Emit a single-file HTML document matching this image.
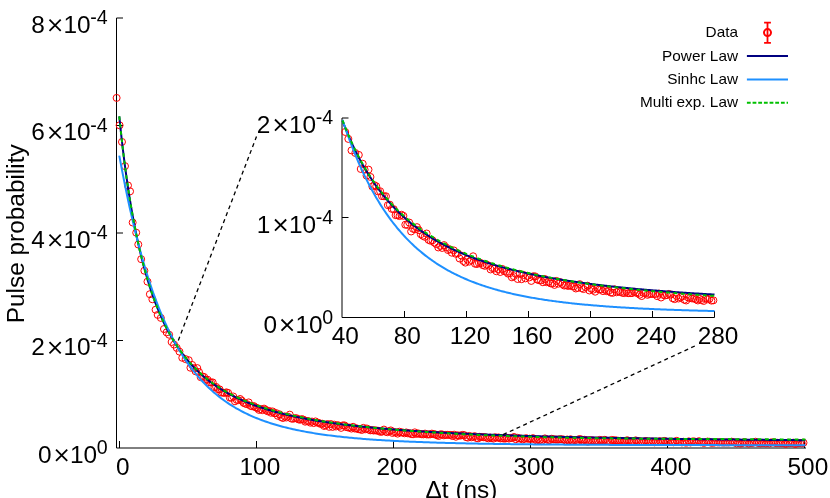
<!DOCTYPE html>
<html><head><meta charset="utf-8"><title>Pulse probability</title>
<style>html,body{margin:0;padding:0;background:#fff;}body{width:830px;height:498px;overflow:hidden;font-family:"Liberation Sans",sans-serif;}svg{display:block;will-change:transform;}</style>
</head><body>
<svg width="830" height="498" viewBox="0 0 830 498" font-family="'Liberation Sans', sans-serif" fill="#000">
<rect width="830" height="498" fill="#fff"/>
<g stroke="#000" stroke-width="1" fill="none">
<path d="M116.5,18 V448 H806"/>
<path d="M116.5,18.00 h6.5"/>
<path d="M116.5,125.50 h6.5"/>
<path d="M116.5,233.00 h6.5"/>
<path d="M116.5,340.50 h6.5"/>
<path d="M119.50,448 v-7"/>
<path d="M256.50,448 v-7"/>
<path d="M393.50,448 v-7"/>
<path d="M530.50,448 v-7"/>
<path d="M667.50,448 v-7"/>
<path d="M804.50,448 v-7"/>
</g>
<g fill="none" stroke="#ff0000" stroke-width="1"><circle cx="116.62" cy="97.91" r="3.5"/><circle cx="119.60" cy="125.30" r="3.5"/><circle cx="121.97" cy="141.95" r="3.5"/><circle cx="124.98" cy="166.11" r="3.5"/><circle cx="127.99" cy="185.44" r="3.5"/><circle cx="130.05" cy="191.35" r="3.5"/><circle cx="132.65" cy="222.50" r="3.5"/><circle cx="136.21" cy="232.70" r="3.5"/><circle cx="138.27" cy="244.51" r="3.5"/><circle cx="141.16" cy="259.16" r="3.5"/><circle cx="144.39" cy="270.74" r="3.5"/><circle cx="147.47" cy="281.64" r="3.5"/><circle cx="149.87" cy="294.21" r="3.5"/><circle cx="152.37" cy="299.25" r="3.5"/><circle cx="155.57" cy="309.74" r="3.5"/><circle cx="157.70" cy="314.90" r="3.5"/><circle cx="160.83" cy="317.91" r="3.5"/><circle cx="163.94" cy="329.02" r="3.5"/><circle cx="166.64" cy="332.40" r="3.5"/><circle cx="169.14" cy="334.72" r="3.5"/><circle cx="171.61" cy="341.97" r="3.5"/><circle cx="174.04" cy="344.58" r="3.5"/><circle cx="176.72" cy="347.86" r="3.5"/><circle cx="179.46" cy="351.61" r="3.5"/><circle cx="182.27" cy="357.79" r="3.5"/><circle cx="185.62" cy="359.15" r="3.5"/><circle cx="188.72" cy="360.19" r="3.5"/><circle cx="190.43" cy="367.74" r="3.5"/><circle cx="192.14" cy="364.93" r="3.5"/><circle cx="193.86" cy="368.14" r="3.5"/><circle cx="195.57" cy="371.30" r="3.5"/><circle cx="197.28" cy="368.08" r="3.5"/><circle cx="198.99" cy="372.02" r="3.5"/><circle cx="200.71" cy="377.18" r="3.5"/><circle cx="202.42" cy="376.41" r="3.5"/><circle cx="204.13" cy="377.01" r="3.5"/><circle cx="205.84" cy="379.81" r="3.5"/><circle cx="207.56" cy="379.69" r="3.5"/><circle cx="209.27" cy="382.34" r="3.5"/><circle cx="210.98" cy="382.40" r="3.5"/><circle cx="212.69" cy="382.39" r="3.5"/><circle cx="214.41" cy="387.18" r="3.5"/><circle cx="216.12" cy="386.91" r="3.5"/><circle cx="217.83" cy="389.16" r="3.5"/><circle cx="219.54" cy="389.33" r="3.5"/><circle cx="221.26" cy="392.53" r="3.5"/><circle cx="222.97" cy="392.61" r="3.5"/><circle cx="224.68" cy="393.03" r="3.5"/><circle cx="226.39" cy="392.32" r="3.5"/><circle cx="228.11" cy="392.92" r="3.5"/><circle cx="229.82" cy="397.67" r="3.5"/><circle cx="231.53" cy="397.77" r="3.5"/><circle cx="233.24" cy="396.48" r="3.5"/><circle cx="234.96" cy="401.30" r="3.5"/><circle cx="236.67" cy="399.86" r="3.5"/><circle cx="238.38" cy="400.14" r="3.5"/><circle cx="240.09" cy="398.97" r="3.5"/><circle cx="241.81" cy="400.59" r="3.5"/><circle cx="243.52" cy="402.82" r="3.5"/><circle cx="245.23" cy="403.61" r="3.5"/><circle cx="246.94" cy="404.17" r="3.5"/><circle cx="248.66" cy="402.39" r="3.5"/><circle cx="250.37" cy="405.80" r="3.5"/><circle cx="252.08" cy="406.30" r="3.5"/><circle cx="253.79" cy="406.05" r="3.5"/><circle cx="255.51" cy="407.33" r="3.5"/><circle cx="257.22" cy="408.06" r="3.5"/><circle cx="258.93" cy="409.89" r="3.5"/><circle cx="260.64" cy="409.01" r="3.5"/><circle cx="262.36" cy="410.16" r="3.5"/><circle cx="264.07" cy="408.62" r="3.5"/><circle cx="265.78" cy="409.85" r="3.5"/><circle cx="267.49" cy="411.26" r="3.5"/><circle cx="269.21" cy="410.91" r="3.5"/><circle cx="270.92" cy="412.71" r="3.5"/><circle cx="272.63" cy="411.46" r="3.5"/><circle cx="274.34" cy="413.28" r="3.5"/><circle cx="276.06" cy="413.03" r="3.5"/><circle cx="277.77" cy="415.81" r="3.5"/><circle cx="279.48" cy="414.27" r="3.5"/><circle cx="281.19" cy="417.19" r="3.5"/><circle cx="282.91" cy="418.03" r="3.5"/><circle cx="284.62" cy="416.38" r="3.5"/><circle cx="286.33" cy="417.50" r="3.5"/><circle cx="288.04" cy="416.66" r="3.5"/><circle cx="289.76" cy="414.63" r="3.5"/><circle cx="291.47" cy="418.62" r="3.5"/><circle cx="293.18" cy="418.76" r="3.5"/><circle cx="294.89" cy="418.19" r="3.5"/><circle cx="296.61" cy="418.23" r="3.5"/><circle cx="298.32" cy="419.36" r="3.5"/><circle cx="300.03" cy="419.75" r="3.5"/><circle cx="301.74" cy="419.08" r="3.5"/><circle cx="303.46" cy="419.64" r="3.5"/><circle cx="305.17" cy="421.70" r="3.5"/><circle cx="306.88" cy="420.97" r="3.5"/><circle cx="308.59" cy="421.17" r="3.5"/><circle cx="310.31" cy="422.67" r="3.5"/><circle cx="312.02" cy="421.56" r="3.5"/><circle cx="313.73" cy="423.07" r="3.5"/><circle cx="315.44" cy="421.41" r="3.5"/><circle cx="317.16" cy="422.54" r="3.5"/><circle cx="318.87" cy="422.94" r="3.5"/><circle cx="320.58" cy="423.94" r="3.5"/><circle cx="322.29" cy="423.72" r="3.5"/><circle cx="324.01" cy="425.94" r="3.5"/><circle cx="325.72" cy="425.30" r="3.5"/><circle cx="327.43" cy="424.03" r="3.5"/><circle cx="329.14" cy="426.83" r="3.5"/><circle cx="330.86" cy="424.06" r="3.5"/><circle cx="332.57" cy="426.93" r="3.5"/><circle cx="334.28" cy="424.66" r="3.5"/><circle cx="335.99" cy="426.50" r="3.5"/><circle cx="337.71" cy="425.12" r="3.5"/><circle cx="339.42" cy="426.00" r="3.5"/><circle cx="341.13" cy="427.86" r="3.5"/><circle cx="342.84" cy="425.36" r="3.5"/><circle cx="344.56" cy="425.41" r="3.5"/><circle cx="346.27" cy="427.08" r="3.5"/><circle cx="347.98" cy="427.50" r="3.5"/><circle cx="349.69" cy="427.60" r="3.5"/><circle cx="351.41" cy="428.58" r="3.5"/><circle cx="353.12" cy="426.82" r="3.5"/><circle cx="354.83" cy="428.57" r="3.5"/><circle cx="356.54" cy="428.30" r="3.5"/><circle cx="358.26" cy="429.19" r="3.5"/><circle cx="359.97" cy="429.22" r="3.5"/><circle cx="361.68" cy="430.00" r="3.5"/><circle cx="363.39" cy="427.86" r="3.5"/><circle cx="365.11" cy="429.34" r="3.5"/><circle cx="366.82" cy="428.50" r="3.5"/><circle cx="368.53" cy="429.54" r="3.5"/><circle cx="370.24" cy="430.35" r="3.5"/><circle cx="371.96" cy="430.19" r="3.5"/><circle cx="373.67" cy="430.56" r="3.5"/><circle cx="375.38" cy="430.22" r="3.5"/><circle cx="377.09" cy="430.72" r="3.5"/><circle cx="378.81" cy="430.82" r="3.5"/><circle cx="380.52" cy="431.91" r="3.5"/><circle cx="382.23" cy="431.57" r="3.5"/><circle cx="383.94" cy="429.59" r="3.5"/><circle cx="385.66" cy="431.75" r="3.5"/><circle cx="387.37" cy="432.22" r="3.5"/><circle cx="389.08" cy="431.18" r="3.5"/><circle cx="390.79" cy="430.42" r="3.5"/><circle cx="392.51" cy="432.98" r="3.5"/><circle cx="394.22" cy="432.07" r="3.5"/><circle cx="395.93" cy="432.56" r="3.5"/><circle cx="397.64" cy="433.64" r="3.5"/><circle cx="399.36" cy="431.69" r="3.5"/><circle cx="401.07" cy="432.46" r="3.5"/><circle cx="402.78" cy="432.51" r="3.5"/><circle cx="404.49" cy="433.31" r="3.5"/><circle cx="406.21" cy="432.45" r="3.5"/><circle cx="407.92" cy="433.39" r="3.5"/><circle cx="409.63" cy="433.19" r="3.5"/><circle cx="411.34" cy="434.09" r="3.5"/><circle cx="413.06" cy="434.29" r="3.5"/><circle cx="414.77" cy="432.37" r="3.5"/><circle cx="416.48" cy="433.95" r="3.5"/><circle cx="418.19" cy="433.44" r="3.5"/><circle cx="419.91" cy="433.81" r="3.5"/><circle cx="421.62" cy="434.24" r="3.5"/><circle cx="423.33" cy="434.40" r="3.5"/><circle cx="425.04" cy="433.62" r="3.5"/><circle cx="426.76" cy="434.46" r="3.5"/><circle cx="428.47" cy="434.44" r="3.5"/><circle cx="430.18" cy="434.42" r="3.5"/><circle cx="431.89" cy="433.63" r="3.5"/><circle cx="433.61" cy="434.12" r="3.5"/><circle cx="435.32" cy="434.45" r="3.5"/><circle cx="437.03" cy="435.27" r="3.5"/><circle cx="438.74" cy="435.98" r="3.5"/><circle cx="440.46" cy="434.32" r="3.5"/><circle cx="442.17" cy="434.41" r="3.5"/><circle cx="443.88" cy="435.33" r="3.5"/><circle cx="445.59" cy="434.92" r="3.5"/><circle cx="447.31" cy="434.83" r="3.5"/><circle cx="449.02" cy="434.89" r="3.5"/><circle cx="450.73" cy="434.91" r="3.5"/><circle cx="452.44" cy="436.01" r="3.5"/><circle cx="454.16" cy="434.66" r="3.5"/><circle cx="455.87" cy="436.76" r="3.5"/><circle cx="457.58" cy="435.32" r="3.5"/><circle cx="459.29" cy="435.67" r="3.5"/><circle cx="461.01" cy="435.48" r="3.5"/><circle cx="462.72" cy="434.85" r="3.5"/><circle cx="464.43" cy="435.21" r="3.5"/><circle cx="466.14" cy="437.17" r="3.5"/><circle cx="467.86" cy="437.63" r="3.5"/><circle cx="469.57" cy="435.94" r="3.5"/><circle cx="471.28" cy="437.30" r="3.5"/><circle cx="472.99" cy="436.68" r="3.5"/><circle cx="474.71" cy="436.16" r="3.5"/><circle cx="476.42" cy="437.96" r="3.5"/><circle cx="478.13" cy="438.36" r="3.5"/><circle cx="479.84" cy="436.79" r="3.5"/><circle cx="481.56" cy="437.01" r="3.5"/><circle cx="483.27" cy="437.28" r="3.5"/><circle cx="484.98" cy="437.15" r="3.5"/><circle cx="486.69" cy="437.84" r="3.5"/><circle cx="488.41" cy="438.35" r="3.5"/><circle cx="490.12" cy="437.50" r="3.5"/><circle cx="491.83" cy="438.11" r="3.5"/><circle cx="493.54" cy="438.63" r="3.5"/><circle cx="495.26" cy="437.25" r="3.5"/><circle cx="496.97" cy="437.69" r="3.5"/><circle cx="498.68" cy="437.45" r="3.5"/><circle cx="500.39" cy="438.44" r="3.5"/><circle cx="502.11" cy="438.28" r="3.5"/><circle cx="503.82" cy="438.57" r="3.5"/><circle cx="505.53" cy="438.55" r="3.5"/><circle cx="507.24" cy="437.90" r="3.5"/><circle cx="508.96" cy="438.60" r="3.5"/><circle cx="510.67" cy="437.92" r="3.5"/><circle cx="512.38" cy="437.99" r="3.5"/><circle cx="514.09" cy="436.96" r="3.5"/><circle cx="515.81" cy="439.23" r="3.5"/><circle cx="517.52" cy="437.81" r="3.5"/><circle cx="519.23" cy="438.50" r="3.5"/><circle cx="520.94" cy="438.51" r="3.5"/><circle cx="522.66" cy="439.48" r="3.5"/><circle cx="524.37" cy="438.90" r="3.5"/><circle cx="526.08" cy="438.19" r="3.5"/><circle cx="527.79" cy="438.77" r="3.5"/><circle cx="529.51" cy="438.72" r="3.5"/><circle cx="531.22" cy="439.00" r="3.5"/><circle cx="532.93" cy="438.15" r="3.5"/><circle cx="534.64" cy="438.94" r="3.5"/><circle cx="536.36" cy="440.34" r="3.5"/><circle cx="538.07" cy="439.45" r="3.5"/><circle cx="539.78" cy="440.29" r="3.5"/><circle cx="541.49" cy="441.13" r="3.5"/><circle cx="543.21" cy="439.50" r="3.5"/><circle cx="544.92" cy="438.40" r="3.5"/><circle cx="546.63" cy="439.24" r="3.5"/><circle cx="548.34" cy="440.03" r="3.5"/><circle cx="550.06" cy="439.94" r="3.5"/><circle cx="551.77" cy="438.73" r="3.5"/><circle cx="553.48" cy="439.36" r="3.5"/><circle cx="555.19" cy="439.47" r="3.5"/><circle cx="556.91" cy="439.58" r="3.5"/><circle cx="558.62" cy="439.57" r="3.5"/><circle cx="560.33" cy="439.15" r="3.5"/><circle cx="562.04" cy="439.35" r="3.5"/><circle cx="563.76" cy="439.59" r="3.5"/><circle cx="565.47" cy="440.38" r="3.5"/><circle cx="567.18" cy="439.51" r="3.5"/><circle cx="568.89" cy="440.25" r="3.5"/><circle cx="570.61" cy="439.25" r="3.5"/><circle cx="572.32" cy="440.68" r="3.5"/><circle cx="574.03" cy="440.05" r="3.5"/><circle cx="575.74" cy="440.02" r="3.5"/><circle cx="577.46" cy="440.82" r="3.5"/><circle cx="579.17" cy="439.10" r="3.5"/><circle cx="580.88" cy="439.29" r="3.5"/><circle cx="582.59" cy="440.44" r="3.5"/><circle cx="584.31" cy="439.77" r="3.5"/><circle cx="586.02" cy="440.03" r="3.5"/><circle cx="587.73" cy="441.78" r="3.5"/><circle cx="589.44" cy="440.18" r="3.5"/><circle cx="591.16" cy="440.40" r="3.5"/><circle cx="592.87" cy="440.35" r="3.5"/><circle cx="594.58" cy="441.04" r="3.5"/><circle cx="596.29" cy="440.62" r="3.5"/><circle cx="598.01" cy="440.61" r="3.5"/><circle cx="599.72" cy="439.87" r="3.5"/><circle cx="601.43" cy="440.39" r="3.5"/><circle cx="603.14" cy="440.62" r="3.5"/><circle cx="604.86" cy="439.79" r="3.5"/><circle cx="606.57" cy="440.99" r="3.5"/><circle cx="608.28" cy="440.93" r="3.5"/><circle cx="609.99" cy="441.75" r="3.5"/><circle cx="611.71" cy="439.92" r="3.5"/><circle cx="613.42" cy="440.28" r="3.5"/><circle cx="615.13" cy="440.34" r="3.5"/><circle cx="616.84" cy="440.51" r="3.5"/><circle cx="618.56" cy="440.85" r="3.5"/><circle cx="620.27" cy="440.83" r="3.5"/><circle cx="621.98" cy="441.11" r="3.5"/><circle cx="623.69" cy="441.12" r="3.5"/><circle cx="625.41" cy="441.01" r="3.5"/><circle cx="627.12" cy="440.25" r="3.5"/><circle cx="628.83" cy="440.80" r="3.5"/><circle cx="630.54" cy="441.16" r="3.5"/><circle cx="632.26" cy="441.47" r="3.5"/><circle cx="633.97" cy="441.53" r="3.5"/><circle cx="635.68" cy="440.36" r="3.5"/><circle cx="637.39" cy="440.98" r="3.5"/><circle cx="639.11" cy="441.24" r="3.5"/><circle cx="640.82" cy="441.49" r="3.5"/><circle cx="642.53" cy="441.92" r="3.5"/><circle cx="644.24" cy="441.40" r="3.5"/><circle cx="645.96" cy="440.93" r="3.5"/><circle cx="647.67" cy="441.62" r="3.5"/><circle cx="649.38" cy="441.56" r="3.5"/><circle cx="651.09" cy="441.59" r="3.5"/><circle cx="652.81" cy="441.44" r="3.5"/><circle cx="654.52" cy="442.35" r="3.5"/><circle cx="656.23" cy="441.67" r="3.5"/><circle cx="657.94" cy="442.02" r="3.5"/><circle cx="659.66" cy="441.14" r="3.5"/><circle cx="661.37" cy="442.03" r="3.5"/><circle cx="663.08" cy="441.36" r="3.5"/><circle cx="664.79" cy="440.90" r="3.5"/><circle cx="666.51" cy="441.87" r="3.5"/><circle cx="668.22" cy="442.04" r="3.5"/><circle cx="669.93" cy="441.66" r="3.5"/><circle cx="671.64" cy="441.78" r="3.5"/><circle cx="673.36" cy="442.31" r="3.5"/><circle cx="675.07" cy="441.59" r="3.5"/><circle cx="676.78" cy="440.83" r="3.5"/><circle cx="678.49" cy="442.01" r="3.5"/><circle cx="680.21" cy="442.00" r="3.5"/><circle cx="681.92" cy="442.45" r="3.5"/><circle cx="683.63" cy="441.78" r="3.5"/><circle cx="685.34" cy="442.59" r="3.5"/><circle cx="687.06" cy="442.54" r="3.5"/><circle cx="688.77" cy="441.37" r="3.5"/><circle cx="690.48" cy="442.49" r="3.5"/><circle cx="692.19" cy="441.52" r="3.5"/><circle cx="693.91" cy="441.32" r="3.5"/><circle cx="695.62" cy="441.97" r="3.5"/><circle cx="697.33" cy="441.85" r="3.5"/><circle cx="699.04" cy="441.18" r="3.5"/><circle cx="700.76" cy="442.26" r="3.5"/><circle cx="702.47" cy="442.48" r="3.5"/><circle cx="704.18" cy="442.87" r="3.5"/><circle cx="705.89" cy="442.21" r="3.5"/><circle cx="707.61" cy="441.53" r="3.5"/><circle cx="709.32" cy="441.80" r="3.5"/><circle cx="711.03" cy="442.75" r="3.5"/><circle cx="712.74" cy="442.73" r="3.5"/><circle cx="714.46" cy="442.58" r="3.5"/><circle cx="716.17" cy="442.21" r="3.5"/><circle cx="717.88" cy="442.47" r="3.5"/><circle cx="719.59" cy="442.29" r="3.5"/><circle cx="721.31" cy="442.27" r="3.5"/><circle cx="723.02" cy="442.57" r="3.5"/><circle cx="724.73" cy="442.47" r="3.5"/><circle cx="726.44" cy="442.37" r="3.5"/><circle cx="728.16" cy="442.53" r="3.5"/><circle cx="729.87" cy="442.27" r="3.5"/><circle cx="731.58" cy="441.64" r="3.5"/><circle cx="733.29" cy="442.26" r="3.5"/><circle cx="735.01" cy="442.54" r="3.5"/><circle cx="736.72" cy="443.38" r="3.5"/><circle cx="738.43" cy="442.42" r="3.5"/><circle cx="740.14" cy="443.53" r="3.5"/><circle cx="741.86" cy="443.30" r="3.5"/><circle cx="743.57" cy="442.25" r="3.5"/><circle cx="745.28" cy="442.34" r="3.5"/><circle cx="746.99" cy="442.76" r="3.5"/><circle cx="748.71" cy="443.50" r="3.5"/><circle cx="750.42" cy="442.89" r="3.5"/><circle cx="752.13" cy="443.05" r="3.5"/><circle cx="753.84" cy="442.46" r="3.5"/><circle cx="755.56" cy="441.73" r="3.5"/><circle cx="757.27" cy="442.69" r="3.5"/><circle cx="758.98" cy="443.16" r="3.5"/><circle cx="760.69" cy="443.36" r="3.5"/><circle cx="762.41" cy="442.86" r="3.5"/><circle cx="764.12" cy="442.94" r="3.5"/><circle cx="765.83" cy="443.40" r="3.5"/><circle cx="767.54" cy="442.83" r="3.5"/><circle cx="769.26" cy="443.43" r="3.5"/><circle cx="770.97" cy="442.41" r="3.5"/><circle cx="772.68" cy="442.45" r="3.5"/><circle cx="774.39" cy="442.46" r="3.5"/><circle cx="776.11" cy="443.18" r="3.5"/><circle cx="777.82" cy="442.75" r="3.5"/><circle cx="779.53" cy="443.05" r="3.5"/><circle cx="781.24" cy="443.18" r="3.5"/><circle cx="782.96" cy="443.18" r="3.5"/><circle cx="784.67" cy="443.62" r="3.5"/><circle cx="786.38" cy="443.70" r="3.5"/><circle cx="788.09" cy="442.71" r="3.5"/><circle cx="789.81" cy="443.17" r="3.5"/><circle cx="791.52" cy="443.00" r="3.5"/><circle cx="793.23" cy="442.67" r="3.5"/><circle cx="794.94" cy="443.90" r="3.5"/><circle cx="796.66" cy="443.49" r="3.5"/><circle cx="798.37" cy="443.08" r="3.5"/><circle cx="800.08" cy="442.99" r="3.5"/><circle cx="801.79" cy="443.35" r="3.5"/><circle cx="803.51" cy="442.74" r="3.5"/></g>
<path d="M119.29,116.40 L121.01,132.99 L122.73,148.16 L124.45,162.09 L126.17,174.95 L127.89,186.87 L129.61,197.95 L131.33,208.27 L133.05,217.92 L134.77,226.97 L136.49,235.46 L138.21,243.44 L139.93,250.96 L141.65,258.05 L143.37,264.75 L145.09,271.09 L146.80,277.09 L148.52,282.78 L150.24,288.18 L151.96,293.31 L153.68,298.19 L155.40,302.82 L157.12,307.24 L158.84,311.46 L160.56,315.47 L162.28,319.31 L164.00,322.97 L165.72,326.48 L167.44,329.83 L169.16,333.04 L170.88,336.11 L172.59,339.06 L174.31,341.88 L176.03,344.59 L177.75,347.20 L179.47,349.70 L181.19,352.10 L182.91,354.41 L184.63,356.63 L186.35,358.78 L188.07,360.84 L189.79,362.83 L191.51,364.74 L193.23,366.59 L194.95,368.37 L196.67,370.09 L198.39,371.75 L200.10,373.36 L201.82,374.91 L203.54,376.41 L205.26,377.86 L206.98,379.26 L208.70,380.62 L210.42,381.94 L212.14,383.21 L213.86,384.45 L215.58,385.64 L217.30,386.80 L219.02,387.93 L220.74,389.02 L222.46,390.08 L224.18,391.11 L225.90,392.11 L227.61,393.08 L229.33,394.02 L231.05,394.93 L232.77,395.82 L234.49,396.69 L236.21,397.53 L237.93,398.35 L239.65,399.15 L241.37,399.92 L243.09,400.68 L244.81,401.42 L246.53,402.13 L248.25,402.83 L249.97,403.51 L251.69,404.17 L253.41,404.82 L255.12,405.45 L256.84,406.07 L258.56,406.67 L260.28,407.25 L262.00,407.82 L263.72,408.38 L265.44,408.92 L267.16,409.46 L268.88,409.98 L270.60,410.48 L272.32,410.98 L274.04,411.46 L275.76,411.94 L277.48,412.40 L279.20,412.85 L280.92,413.29 L282.63,413.73 L284.35,414.15 L286.07,414.57 L287.79,414.97 L289.51,415.37 L291.23,415.76 L292.95,416.14 L294.67,416.51 L296.39,416.87 L298.11,417.23 L299.83,417.58 L301.55,417.92 L303.27,418.26 L304.99,418.59 L306.71,418.91 L308.42,419.23 L310.14,419.54 L311.86,419.84 L313.58,420.14 L315.30,420.43 L317.02,420.72 L318.74,421.00 L320.46,421.27 L322.18,421.55 L323.90,421.81 L325.62,422.07 L327.34,422.33 L329.06,422.58 L330.78,422.83 L332.50,423.07 L334.22,423.31 L335.93,423.54 L337.65,423.77 L339.37,424.00 L341.09,424.22 L342.81,424.44 L344.53,424.65 L346.25,424.86 L347.97,425.07 L349.69,425.27 L351.41,425.47 L353.13,425.67 L354.85,425.86 L356.57,426.05 L358.29,426.24 L360.01,426.42 L361.73,426.60 L363.44,426.78 L365.16,426.95 L366.88,427.12 L368.60,427.29 L370.32,427.46 L372.04,427.62 L373.76,427.79 L375.48,427.94 L377.20,428.10 L378.92,428.25 L380.64,428.41 L382.36,428.55 L384.08,428.70 L385.80,428.85 L387.52,428.99 L389.24,429.13 L390.95,429.27 L392.67,429.40 L394.39,429.54 L396.11,429.67 L397.83,429.80 L399.55,429.93 L401.27,430.06 L402.99,430.18 L404.71,430.30 L406.43,430.42 L408.15,430.54 L409.87,430.66 L411.59,430.78 L413.31,430.89 L415.03,431.00 L416.75,431.12 L418.46,431.23 L420.18,431.33 L421.90,431.44 L423.62,431.55 L425.34,431.65 L427.06,431.75 L428.78,431.85 L430.50,431.95 L432.22,432.05 L433.94,432.15 L435.66,432.24 L437.38,432.34 L439.10,432.43 L440.82,432.52 L442.54,432.61 L444.25,432.70 L445.97,432.79 L447.69,432.88 L449.41,432.97 L451.13,433.05 L452.85,433.14 L454.57,433.22 L456.29,433.30 L458.01,433.38 L459.73,433.46 L461.45,433.54 L463.17,433.62 L464.89,433.70 L466.61,433.77 L468.33,433.85 L470.05,433.92 L471.76,433.99 L473.48,434.07 L475.20,434.14 L476.92,434.21 L478.64,434.28 L480.36,434.35 L482.08,434.42 L483.80,434.48 L485.52,434.55 L487.24,434.62 L488.96,434.68 L490.68,434.75 L492.40,434.81 L494.12,434.87 L495.84,434.93 L497.56,435.00 L499.27,435.06 L500.99,435.12 L502.71,435.18 L504.43,435.23 L506.15,435.29 L507.87,435.35 L509.59,435.41 L511.31,435.46 L513.03,435.52 L514.75,435.57 L516.47,435.63 L518.19,435.68 L519.91,435.73 L521.63,435.79 L523.35,435.84 L525.07,435.89 L526.78,435.94 L528.50,435.99 L530.22,436.04 L531.94,436.09 L533.66,436.14 L535.38,436.19 L537.10,436.24 L538.82,436.28 L540.54,436.33 L542.26,436.38 L543.98,436.42 L545.70,436.47 L547.42,436.51 L549.14,436.56 L550.86,436.60 L552.58,436.64 L554.29,436.69 L556.01,436.73 L557.73,436.77 L559.45,436.81 L561.17,436.85 L562.89,436.89 L564.61,436.94 L566.33,436.98 L568.05,437.02 L569.77,437.05 L571.49,437.09 L573.21,437.13 L574.93,437.17 L576.65,437.21 L578.37,437.25 L580.08,437.28 L581.80,437.32 L583.52,437.36 L585.24,437.39 L586.96,437.43 L588.68,437.46 L590.40,437.50 L592.12,437.53 L593.84,437.57 L595.56,437.60 L597.28,437.64 L599.00,437.67 L600.72,437.70 L602.44,437.73 L604.16,437.77 L605.88,437.80 L607.59,437.83 L609.31,437.86 L611.03,437.89 L612.75,437.92 L614.47,437.96 L616.19,437.99 L617.91,438.02 L619.63,438.05 L621.35,438.08 L623.07,438.11 L624.79,438.13 L626.51,438.16 L628.23,438.19 L629.95,438.22 L631.67,438.25 L633.39,438.28 L635.10,438.30 L636.82,438.33 L638.54,438.36 L640.26,438.39 L641.98,438.41 L643.70,438.44 L645.42,438.47 L647.14,438.49 L648.86,438.52 L650.58,438.54 L652.30,438.57 L654.02,438.59 L655.74,438.62 L657.46,438.64 L659.18,438.67 L660.90,438.69 L662.61,438.72 L664.33,438.74 L666.05,438.76 L667.77,438.79 L669.49,438.81 L671.21,438.83 L672.93,438.86 L674.65,438.88 L676.37,438.90 L678.09,438.92 L679.81,438.95 L681.53,438.97 L683.25,438.99 L684.97,439.01 L686.69,439.03 L688.41,439.05 L690.12,439.08 L691.84,439.10 L693.56,439.12 L695.28,439.14 L697.00,439.16 L698.72,439.18 L700.44,439.20 L702.16,439.22 L703.88,439.24 L705.60,439.26 L707.32,439.28 L709.04,439.30 L710.76,439.32 L712.48,439.34 L714.20,439.35 L715.91,439.37 L717.63,439.39 L719.35,439.41 L721.07,439.43 L722.79,439.45 L724.51,439.47 L726.23,439.48 L727.95,439.50 L729.67,439.52 L731.39,439.54 L733.11,439.55 L734.83,439.57 L736.55,439.59 L738.27,439.61 L739.99,439.62 L741.71,439.64 L743.42,439.66 L745.14,439.67 L746.86,439.69 L748.58,439.71 L750.30,439.72 L752.02,439.74 L753.74,439.75 L755.46,439.77 L757.18,439.79 L758.90,439.80 L760.62,439.82 L762.34,439.83 L764.06,439.85 L765.78,439.86 L767.50,439.88 L769.22,439.89 L770.93,439.91 L772.65,439.92 L774.37,439.94 L776.09,439.95 L777.81,439.97 L779.53,439.98 L781.25,439.99 L782.97,440.01 L784.69,440.02 L786.41,440.04 L788.13,440.05 L789.85,440.06 L791.57,440.08 L793.29,440.09 L795.01,440.10 L796.73,440.12 L798.44,440.13 L800.16,440.14 L801.88,440.16 L803.60,440.17 L805.32,440.18" fill="none" stroke="#000080" stroke-width="2"/>
<path d="M119.29,155.66 L121.01,164.87 L122.73,173.84 L124.45,182.56 L126.17,191.02 L127.89,199.23 L129.61,207.17 L131.33,214.86 L133.05,222.30 L134.77,229.49 L136.49,236.44 L138.21,243.16 L139.93,249.64 L141.65,255.91 L143.37,261.95 L145.09,267.79 L146.80,273.43 L148.52,278.88 L150.24,284.14 L151.96,289.21 L153.68,294.11 L155.40,298.85 L157.12,303.42 L158.84,307.83 L160.56,312.09 L162.28,316.21 L164.00,320.19 L165.72,324.03 L167.44,327.74 L169.16,331.33 L170.88,334.79 L172.59,338.14 L174.31,341.38 L176.03,344.50 L177.75,347.52 L179.47,350.45 L181.19,353.27 L182.91,356.00 L184.63,358.64 L186.35,361.19 L188.07,363.66 L189.79,366.05 L191.51,368.36 L193.23,370.59 L194.95,372.75 L196.67,374.84 L198.39,376.87 L200.10,378.83 L201.82,380.72 L203.54,382.55 L205.26,384.33 L206.98,386.05 L208.70,387.71 L210.42,389.32 L212.14,390.88 L213.86,392.40 L215.58,393.86 L217.30,395.28 L219.02,396.65 L220.74,397.98 L222.46,399.27 L224.18,400.52 L225.90,401.73 L227.61,402.91 L229.33,404.05 L231.05,405.15 L232.77,406.22 L234.49,407.26 L236.21,408.27 L237.93,409.24 L239.65,410.19 L241.37,411.11 L243.09,412.00 L244.81,412.86 L246.53,413.70 L248.25,414.52 L249.97,415.31 L251.69,416.08 L253.41,416.82 L255.12,417.55 L256.84,418.25 L258.56,418.93 L260.28,419.59 L262.00,420.24 L263.72,420.86 L265.44,421.47 L267.16,422.06 L268.88,422.64 L270.60,423.19 L272.32,423.74 L274.04,424.26 L275.76,424.78 L277.48,425.27 L279.20,425.76 L280.92,426.23 L282.63,426.69 L284.35,427.13 L286.07,427.57 L287.79,427.99 L289.51,428.40 L291.23,428.80 L292.95,429.19 L294.67,429.57 L296.39,429.94 L298.11,430.29 L299.83,430.64 L301.55,430.98 L303.27,431.32 L304.99,431.64 L306.71,431.95 L308.42,432.26 L310.14,432.56 L311.86,432.85 L313.58,433.13 L315.30,433.41 L317.02,433.67 L318.74,433.94 L320.46,434.19 L322.18,434.44 L323.90,434.68 L325.62,434.92 L327.34,435.15 L329.06,435.38 L330.78,435.60 L332.50,435.81 L334.22,436.02 L335.93,436.22 L337.65,436.42 L339.37,436.61 L341.09,436.80 L342.81,436.99 L344.53,437.17 L346.25,437.34 L347.97,437.52 L349.69,437.68 L351.41,437.85 L353.13,438.01 L354.85,438.16 L356.57,438.31 L358.29,438.46 L360.01,438.61 L361.73,438.75 L363.44,438.89 L365.16,439.02 L366.88,439.16 L368.60,439.28 L370.32,439.41 L372.04,439.53 L373.76,439.65 L375.48,439.77 L377.20,439.89 L378.92,440.00 L380.64,440.11 L382.36,440.22 L384.08,440.32 L385.80,440.42 L387.52,440.52 L389.24,440.62 L390.95,440.72 L392.67,440.81 L394.39,440.90 L396.11,440.99 L397.83,441.08 L399.55,441.17 L401.27,441.25 L402.99,441.33 L404.71,441.41 L406.43,441.49 L408.15,441.57 L409.87,441.64 L411.59,441.71 L413.31,441.79 L415.03,441.86 L416.75,441.93 L418.46,441.99 L420.18,442.06 L421.90,442.12 L423.62,442.19 L425.34,442.25 L427.06,442.31 L428.78,442.37 L430.50,442.42 L432.22,442.48 L433.94,442.54 L435.66,442.59 L437.38,442.64 L439.10,442.70 L440.82,442.75 L442.54,442.80 L444.25,442.85 L445.97,442.89 L447.69,442.94 L449.41,442.99 L451.13,443.03 L452.85,443.07 L454.57,443.12 L456.29,443.16 L458.01,443.20 L459.73,443.24 L461.45,443.28 L463.17,443.32 L464.89,443.36 L466.61,443.39 L468.33,443.43 L470.05,443.47 L471.76,443.50 L473.48,443.54 L475.20,443.57 L476.92,443.60 L478.64,443.63 L480.36,443.67 L482.08,443.70 L483.80,443.73 L485.52,443.76 L487.24,443.79 L488.96,443.81 L490.68,443.84 L492.40,443.87 L494.12,443.90 L495.84,443.92 L497.56,443.95 L499.27,443.97 L500.99,444.00 L502.71,444.02 L504.43,444.04 L506.15,444.07 L507.87,444.09 L509.59,444.11 L511.31,444.13 L513.03,444.16 L514.75,444.18 L516.47,444.20 L518.19,444.22 L519.91,444.24 L521.63,444.26 L523.35,444.28 L525.07,444.29 L526.78,444.31 L528.50,444.33 L530.22,444.35 L531.94,444.37 L533.66,444.38 L535.38,444.40 L537.10,444.41 L538.82,444.43 L540.54,444.45 L542.26,444.46 L543.98,444.48 L545.70,444.49 L547.42,444.51 L549.14,444.52 L550.86,444.53 L552.58,444.55 L554.29,444.56 L556.01,444.57 L557.73,444.59 L559.45,444.60 L561.17,444.61 L562.89,444.62 L564.61,444.63 L566.33,444.65 L568.05,444.66 L569.77,444.67 L571.49,444.68 L573.21,444.69 L574.93,444.70 L576.65,444.71 L578.37,444.72 L580.08,444.73 L581.80,444.74 L583.52,444.75 L585.24,444.76 L586.96,444.77 L588.68,444.78 L590.40,444.78 L592.12,444.79 L593.84,444.80 L595.56,444.81 L597.28,444.82 L599.00,444.83 L600.72,444.83 L602.44,444.84 L604.16,444.85 L605.88,444.86 L607.59,444.86 L609.31,444.87 L611.03,444.88 L612.75,444.88 L614.47,444.89 L616.19,444.90 L617.91,444.90 L619.63,444.91 L621.35,444.92 L623.07,444.92 L624.79,444.93 L626.51,444.93 L628.23,444.94 L629.95,444.94 L631.67,444.95 L633.39,444.96 L635.10,444.96 L636.82,444.97 L638.54,444.97 L640.26,444.98 L641.98,444.98 L643.70,444.99 L645.42,444.99 L647.14,445.00 L648.86,445.00 L650.58,445.00 L652.30,445.01 L654.02,445.01 L655.74,445.02 L657.46,445.02 L659.18,445.02 L660.90,445.03 L662.61,445.03 L664.33,445.04 L666.05,445.04 L667.77,445.04 L669.49,445.05 L671.21,445.05 L672.93,445.05 L674.65,445.06 L676.37,445.06 L678.09,445.06 L679.81,445.07 L681.53,445.07 L683.25,445.07 L684.97,445.08 L686.69,445.08 L688.41,445.08 L690.12,445.08 L691.84,445.09 L693.56,445.09 L695.28,445.09 L697.00,445.10 L698.72,445.10 L700.44,445.10 L702.16,445.10 L703.88,445.11 L705.60,445.11 L707.32,445.11 L709.04,445.11 L710.76,445.11 L712.48,445.12 L714.20,445.12 L715.91,445.12 L717.63,445.12 L719.35,445.13 L721.07,445.13 L722.79,445.13 L724.51,445.13 L726.23,445.13 L727.95,445.13 L729.67,445.14 L731.39,445.14 L733.11,445.14 L734.83,445.14 L736.55,445.14 L738.27,445.14 L739.99,445.15 L741.71,445.15 L743.42,445.15 L745.14,445.15 L746.86,445.15 L748.58,445.15 L750.30,445.16 L752.02,445.16 L753.74,445.16 L755.46,445.16 L757.18,445.16 L758.90,445.16 L760.62,445.16 L762.34,445.16 L764.06,445.17 L765.78,445.17 L767.50,445.17 L769.22,445.17 L770.93,445.17 L772.65,445.17 L774.37,445.17 L776.09,445.17 L777.81,445.17 L779.53,445.18 L781.25,445.18 L782.97,445.18 L784.69,445.18 L786.41,445.18 L788.13,445.18 L789.85,445.18 L791.57,445.18 L793.29,445.18 L795.01,445.18 L796.73,445.19 L798.44,445.19 L800.16,445.19 L801.88,445.19 L803.60,445.19 L805.32,445.19" fill="none" stroke="#1e90ff" stroke-width="2"/>
<path d="M119.29,116.38 L121.01,132.97 L122.73,148.14 L124.45,162.07 L126.17,174.93 L127.89,186.84 L129.61,197.91 L131.33,208.24 L133.05,217.89 L134.77,226.93 L136.49,235.41 L138.21,243.39 L139.93,250.91 L141.65,258.00 L143.37,264.69 L145.09,271.03 L146.80,277.02 L148.52,282.71 L150.24,288.10 L151.96,293.22 L153.68,298.09 L155.40,302.73 L157.12,307.14 L158.84,311.35 L160.56,315.36 L162.28,319.19 L164.00,322.84 L165.72,326.34 L167.44,329.68 L169.16,332.88 L170.88,335.94 L172.59,338.88 L174.31,341.70 L176.03,344.40 L177.75,346.99 L179.47,349.48 L181.19,351.87 L182.91,354.17 L184.63,356.38 L186.35,358.51 L188.07,360.56 L189.79,362.54 L191.51,364.44 L193.23,366.27 L194.95,368.04 L196.67,369.75 L198.39,371.40 L200.10,372.99 L201.82,374.52 L203.54,376.01 L205.26,377.45 L206.98,378.83 L208.70,380.18 L210.42,381.48 L212.14,382.74 L213.86,383.96 L215.58,385.14 L217.30,386.29 L219.02,387.40 L220.74,388.47 L222.46,389.52 L224.18,390.53 L225.90,391.52 L227.61,392.48 L229.33,393.41 L231.05,394.31 L232.77,395.19 L234.49,396.04 L236.21,396.87 L237.93,397.68 L239.65,398.47 L241.37,399.24 L243.09,399.98 L244.81,400.71 L246.53,401.42 L248.25,402.11 L249.97,402.78 L251.69,403.44 L253.41,404.08 L255.12,404.71 L256.84,405.32 L258.56,405.92 L260.28,406.50 L262.00,407.07 L263.72,407.63 L265.44,408.18 L267.16,408.71 L268.88,409.23 L270.60,409.74 L272.32,410.24 L274.04,410.73 L275.76,411.21 L277.48,411.68 L279.20,412.14 L280.92,412.59 L282.63,413.03 L284.35,413.46 L286.07,413.88 L287.79,414.30 L289.51,414.71 L291.23,415.11 L292.95,415.50 L294.67,415.88 L296.39,416.26 L298.11,416.63 L299.83,416.99 L301.55,417.35 L303.27,417.70 L304.99,418.04 L306.71,418.38 L308.42,418.71 L310.14,419.03 L311.86,419.35 L313.58,419.67 L315.30,419.97 L317.02,420.28 L318.74,420.57 L320.46,420.87 L322.18,421.15 L323.90,421.43 L325.62,421.71 L327.34,421.98 L329.06,422.25 L330.78,422.51 L332.50,422.77 L334.22,423.02 L335.93,423.27 L337.65,423.51 L339.37,423.75 L341.09,423.99 L342.81,424.22 L344.53,424.44 L346.25,424.67 L347.97,424.89 L349.69,425.10 L351.41,425.32 L353.13,425.52 L354.85,425.73 L356.57,425.93 L358.29,426.13 L360.01,426.33 L361.73,426.52 L363.44,426.71 L365.16,426.89 L366.88,427.07 L368.60,427.25 L370.32,427.43 L372.04,427.60 L373.76,427.78 L375.48,427.94 L377.20,428.11 L378.92,428.27 L380.64,428.44 L382.36,428.59 L384.08,428.75 L385.80,428.91 L387.52,429.06 L389.24,429.21 L390.95,429.36 L392.67,429.50 L394.39,429.65 L396.11,429.79 L397.83,429.93 L399.55,430.07 L401.27,430.20 L402.99,430.34 L404.71,430.47 L406.43,430.60 L408.15,430.73 L409.87,430.86 L411.59,430.99 L413.31,431.11 L415.03,431.24 L416.75,431.36 L418.46,431.48 L420.18,431.60 L421.90,431.72 L423.62,431.83 L425.34,431.95 L427.06,432.06 L428.78,432.18 L430.50,432.29 L432.22,432.40 L433.94,432.51 L435.66,432.62 L437.38,432.72 L439.10,432.83 L440.82,432.93 L442.54,433.03 L444.25,433.14 L445.97,433.24 L447.69,433.34 L449.41,433.43 L451.13,433.53 L452.85,433.63 L454.57,433.72 L456.29,433.81 L458.01,433.90 L459.73,434.00 L461.45,434.08 L463.17,434.17 L464.89,434.26 L466.61,434.35 L468.33,434.43 L470.05,434.51 L471.76,434.60 L473.48,434.68 L475.20,434.76 L476.92,434.84 L478.64,434.91 L480.36,434.99 L482.08,435.06 L483.80,435.14 L485.52,435.21 L487.24,435.28 L488.96,435.35 L490.68,435.42 L492.40,435.49 L494.12,435.56 L495.84,435.63 L497.56,435.69 L499.27,435.76 L500.99,435.82 L502.71,435.88 L504.43,435.95 L506.15,436.01 L507.87,436.07 L509.59,436.13 L511.31,436.18 L513.03,436.24 L514.75,436.30 L516.47,436.35 L518.19,436.41 L519.91,436.46 L521.63,436.52 L523.35,436.57 L525.07,436.62 L526.78,436.67 L528.50,436.72 L530.22,436.77 L531.94,436.82 L533.66,436.87 L535.38,436.91 L537.10,436.96 L538.82,437.01 L540.54,437.05 L542.26,437.10 L543.98,437.14 L545.70,437.18 L547.42,437.22 L549.14,437.27 L550.86,437.31 L552.58,437.35 L554.29,437.39 L556.01,437.43 L557.73,437.46 L559.45,437.50 L561.17,437.54 L562.89,437.58 L564.61,437.61 L566.33,437.65 L568.05,437.68 L569.77,437.72 L571.49,437.75 L573.21,437.78 L574.93,437.82 L576.65,437.85 L578.37,437.88 L580.08,437.91 L581.80,437.94 L583.52,437.97 L585.24,438.00 L586.96,438.03 L588.68,438.05 L590.40,438.08 L592.12,438.11 L593.84,438.14 L595.56,438.16 L597.28,438.19 L599.00,438.21 L600.72,438.24 L602.44,438.26 L604.16,438.28 L605.88,438.31 L607.59,438.33 L609.31,438.35 L611.03,438.37 L612.75,438.39 L614.47,438.41 L616.19,438.43 L617.91,438.45 L619.63,438.47 L621.35,438.49 L623.07,438.51 L624.79,438.52 L626.51,438.54 L628.23,438.56 L629.95,438.57 L631.67,438.59 L633.39,438.60 L635.10,438.62 L636.82,438.63 L638.54,438.65 L640.26,438.66 L641.98,438.67 L643.70,438.69 L645.42,438.70 L647.14,438.71 L648.86,438.72 L650.58,438.74 L652.30,438.75 L654.02,438.76 L655.74,438.77 L657.46,438.78 L659.18,438.79 L660.90,438.80 L662.61,438.81 L664.33,438.82 L666.05,438.83 L667.77,438.84 L669.49,438.85 L671.21,438.86 L672.93,438.86 L674.65,438.87 L676.37,438.88 L678.09,438.89 L679.81,438.90 L681.53,438.90 L683.25,438.91 L684.97,438.92 L686.69,438.93 L688.41,438.94 L690.12,438.94 L691.84,438.95 L693.56,438.96 L695.28,438.96 L697.00,438.97 L698.72,438.98 L700.44,438.99 L702.16,438.99 L703.88,439.00 L705.60,439.01 L707.32,439.02 L709.04,439.02 L710.76,439.03 L712.48,439.04 L714.20,439.04 L715.91,439.05 L717.63,439.06 L719.35,439.07 L721.07,439.07 L722.79,439.08 L724.51,439.09 L726.23,439.10 L727.95,439.11 L729.67,439.11 L731.39,439.12 L733.11,439.13 L734.83,439.14 L736.55,439.15 L738.27,439.15 L739.99,439.16 L741.71,439.17 L743.42,439.18 L745.14,439.19 L746.86,439.20 L748.58,439.20 L750.30,439.21 L752.02,439.22 L753.74,439.23 L755.46,439.24 L757.18,439.25 L758.90,439.26 L760.62,439.27 L762.34,439.28 L764.06,439.28 L765.78,439.29 L767.50,439.30 L769.22,439.31 L770.93,439.32 L772.65,439.33 L774.37,439.34 L776.09,439.35 L777.81,439.36 L779.53,439.37 L781.25,439.38 L782.97,439.39 L784.69,439.40 L786.41,439.41 L788.13,439.42 L789.85,439.43 L791.57,439.44 L793.29,439.45 L795.01,439.46 L796.73,439.47 L798.44,439.48 L800.16,439.49 L801.88,439.50 L803.60,439.51 L805.32,439.52" fill="none" stroke="#00c000" stroke-width="2" stroke-dasharray="3.8 3.6"/>
<text x="107.60" y="24.10" text-anchor="end" font-size="19.6">-4</text><text x="90.58" y="32.80" text-anchor="end" font-size="24.4">10</text><path d="M49.49,19.60 L60.69,30.80 M49.49,30.80 L60.69,19.60" stroke="#000" stroke-width="1.8" fill="none"/><text x="44.94" y="32.80" text-anchor="end" font-size="24.4">8</text>
<text x="107.60" y="131.60" text-anchor="end" font-size="19.6">-4</text><text x="90.58" y="140.30" text-anchor="end" font-size="24.4">10</text><path d="M49.49,127.10 L60.69,138.30 M49.49,138.30 L60.69,127.10" stroke="#000" stroke-width="1.8" fill="none"/><text x="44.94" y="140.30" text-anchor="end" font-size="24.4">6</text>
<text x="107.60" y="239.10" text-anchor="end" font-size="19.6">-4</text><text x="90.58" y="247.80" text-anchor="end" font-size="24.4">10</text><path d="M49.49,234.60 L60.69,245.80 M49.49,245.80 L60.69,234.60" stroke="#000" stroke-width="1.8" fill="none"/><text x="44.94" y="247.80" text-anchor="end" font-size="24.4">4</text>
<text x="107.60" y="346.60" text-anchor="end" font-size="19.6">-4</text><text x="90.58" y="355.30" text-anchor="end" font-size="24.4">10</text><path d="M49.49,342.10 L60.69,353.30 M49.49,353.30 L60.69,342.10" stroke="#000" stroke-width="1.8" fill="none"/><text x="44.94" y="355.30" text-anchor="end" font-size="24.4">2</text>
<text x="107.60" y="454.10" text-anchor="end" font-size="19.6">0</text><text x="97.10" y="462.80" text-anchor="end" font-size="24.4">10</text><path d="M56.02,449.60 L67.22,460.80 M56.02,460.80 L67.22,449.60" stroke="#000" stroke-width="1.8" fill="none"/><text x="51.47" y="462.80" text-anchor="end" font-size="24.4">0</text>
<text x="122.9" y="474.7" text-anchor="middle" font-size="24.4">0</text>
<text x="259.9" y="474.7" text-anchor="middle" font-size="24.4">100</text>
<text x="396.9" y="474.7" text-anchor="middle" font-size="24.4">200</text>
<text x="533.9" y="474.7" text-anchor="middle" font-size="24.4">300</text>
<text x="670.9" y="474.7" text-anchor="middle" font-size="24.4">400</text>
<text x="807.9" y="474.7" text-anchor="middle" font-size="24.4">500</text>
<text x="461.5" y="498" text-anchor="middle" font-size="24.4">Δt (ns)</text>
<text transform="translate(23.9,233.8) rotate(-90)" text-anchor="middle" font-size="24.4">Pulse probability</text>
<g stroke="#000" stroke-width="1.3" fill="none" stroke-dasharray="4 3.4">
<path d="M178.3,340.4 L256.5,136.6"/>
<path d="M503.1,434.6 L695.1,345.9"/>
</g>
<g stroke="#000" stroke-width="1" fill="none">
<path d="M342,118 V317.5 H714.5"/>
<path d="M342,118 h6.5"/>
<path d="M342,217.5 h6.5"/>
<path d="M404.50,317.5 v-6.5"/>
<path d="M466.50,317.5 v-6.5"/>
<path d="M528.50,317.5 v-6.5"/>
<path d="M590.50,317.5 v-6.5"/>
<path d="M652.50,317.5 v-6.5"/>
<path d="M714.50,317.5 v-6.5"/>
</g>
<g fill="none" stroke="#ff0000" stroke-width="1"><circle cx="345.23" cy="131.96" r="3.5"/><circle cx="348.34" cy="138.93" r="3.5"/><circle cx="351.51" cy="150.43" r="3.5"/><circle cx="355.30" cy="152.98" r="3.5"/><circle cx="358.81" cy="154.91" r="3.5"/><circle cx="360.75" cy="168.97" r="3.5"/><circle cx="362.69" cy="163.74" r="3.5"/><circle cx="364.63" cy="169.71" r="3.5"/><circle cx="366.56" cy="175.60" r="3.5"/><circle cx="368.50" cy="169.60" r="3.5"/><circle cx="370.44" cy="176.95" r="3.5"/><circle cx="372.38" cy="186.55" r="3.5"/><circle cx="374.31" cy="185.11" r="3.5"/><circle cx="376.25" cy="186.23" r="3.5"/><circle cx="378.19" cy="191.44" r="3.5"/><circle cx="380.13" cy="191.22" r="3.5"/><circle cx="382.06" cy="196.16" r="3.5"/><circle cx="384.00" cy="196.28" r="3.5"/><circle cx="385.94" cy="196.25" r="3.5"/><circle cx="387.88" cy="205.16" r="3.5"/><circle cx="389.81" cy="204.67" r="3.5"/><circle cx="391.75" cy="208.87" r="3.5"/><circle cx="393.69" cy="209.17" r="3.5"/><circle cx="395.63" cy="215.14" r="3.5"/><circle cx="397.56" cy="215.28" r="3.5"/><circle cx="399.50" cy="216.06" r="3.5"/><circle cx="401.44" cy="214.74" r="3.5"/><circle cx="403.38" cy="215.87" r="3.5"/><circle cx="405.31" cy="224.71" r="3.5"/><circle cx="407.25" cy="224.89" r="3.5"/><circle cx="409.19" cy="222.50" r="3.5"/><circle cx="411.13" cy="231.48" r="3.5"/><circle cx="413.06" cy="228.79" r="3.5"/><circle cx="415.00" cy="229.31" r="3.5"/><circle cx="416.94" cy="227.14" r="3.5"/><circle cx="418.88" cy="230.15" r="3.5"/><circle cx="420.81" cy="234.29" r="3.5"/><circle cx="422.75" cy="235.78" r="3.5"/><circle cx="424.69" cy="236.81" r="3.5"/><circle cx="426.63" cy="233.50" r="3.5"/><circle cx="428.56" cy="239.85" r="3.5"/><circle cx="430.50" cy="240.77" r="3.5"/><circle cx="432.44" cy="240.32" r="3.5"/><circle cx="434.38" cy="242.70" r="3.5"/><circle cx="436.31" cy="244.05" r="3.5"/><circle cx="438.25" cy="247.45" r="3.5"/><circle cx="440.19" cy="245.82" r="3.5"/><circle cx="442.13" cy="247.96" r="3.5"/><circle cx="444.06" cy="245.10" r="3.5"/><circle cx="446.00" cy="247.39" r="3.5"/><circle cx="447.94" cy="250.02" r="3.5"/><circle cx="449.88" cy="249.36" r="3.5"/><circle cx="451.81" cy="252.71" r="3.5"/><circle cx="453.75" cy="250.39" r="3.5"/><circle cx="455.69" cy="253.78" r="3.5"/><circle cx="457.63" cy="253.32" r="3.5"/><circle cx="459.56" cy="258.49" r="3.5"/><circle cx="461.50" cy="255.61" r="3.5"/><circle cx="463.44" cy="261.05" r="3.5"/><circle cx="465.38" cy="262.62" r="3.5"/><circle cx="467.31" cy="259.54" r="3.5"/><circle cx="469.25" cy="261.64" r="3.5"/><circle cx="471.19" cy="260.06" r="3.5"/><circle cx="473.13" cy="256.28" r="3.5"/><circle cx="475.06" cy="263.72" r="3.5"/><circle cx="477.00" cy="263.99" r="3.5"/><circle cx="478.94" cy="262.91" r="3.5"/><circle cx="480.88" cy="263.00" r="3.5"/><circle cx="482.81" cy="265.10" r="3.5"/><circle cx="484.75" cy="265.83" r="3.5"/><circle cx="486.69" cy="264.59" r="3.5"/><circle cx="488.63" cy="265.61" r="3.5"/><circle cx="490.56" cy="269.45" r="3.5"/><circle cx="492.50" cy="268.10" r="3.5"/><circle cx="494.44" cy="268.47" r="3.5"/><circle cx="496.38" cy="271.27" r="3.5"/><circle cx="498.31" cy="269.19" r="3.5"/><circle cx="500.25" cy="272.00" r="3.5"/><circle cx="502.19" cy="268.92" r="3.5"/><circle cx="504.13" cy="271.02" r="3.5"/><circle cx="506.06" cy="271.76" r="3.5"/><circle cx="508.00" cy="273.62" r="3.5"/><circle cx="509.94" cy="273.22" r="3.5"/><circle cx="511.88" cy="277.35" r="3.5"/><circle cx="513.81" cy="276.17" r="3.5"/><circle cx="515.75" cy="273.80" r="3.5"/><circle cx="517.69" cy="279.01" r="3.5"/><circle cx="519.63" cy="273.85" r="3.5"/><circle cx="521.56" cy="279.19" r="3.5"/><circle cx="523.50" cy="274.96" r="3.5"/><circle cx="525.44" cy="278.39" r="3.5"/><circle cx="527.38" cy="275.83" r="3.5"/><circle cx="529.31" cy="277.46" r="3.5"/><circle cx="531.25" cy="280.93" r="3.5"/><circle cx="533.19" cy="276.28" r="3.5"/><circle cx="535.13" cy="276.36" r="3.5"/><circle cx="537.06" cy="279.48" r="3.5"/><circle cx="539.00" cy="280.25" r="3.5"/><circle cx="540.94" cy="280.44" r="3.5"/><circle cx="542.88" cy="282.27" r="3.5"/><circle cx="544.81" cy="278.99" r="3.5"/><circle cx="546.75" cy="282.24" r="3.5"/><circle cx="548.69" cy="281.75" r="3.5"/><circle cx="550.63" cy="283.40" r="3.5"/><circle cx="552.56" cy="283.46" r="3.5"/><circle cx="554.50" cy="284.92" r="3.5"/><circle cx="556.44" cy="280.93" r="3.5"/><circle cx="558.38" cy="283.67" r="3.5"/><circle cx="560.31" cy="282.12" r="3.5"/><circle cx="562.25" cy="284.05" r="3.5"/><circle cx="564.19" cy="285.56" r="3.5"/><circle cx="566.13" cy="285.26" r="3.5"/><circle cx="568.06" cy="285.96" r="3.5"/><circle cx="570.00" cy="285.32" r="3.5"/><circle cx="571.94" cy="286.26" r="3.5"/><circle cx="573.88" cy="286.43" r="3.5"/><circle cx="575.81" cy="288.48" r="3.5"/><circle cx="577.75" cy="287.83" r="3.5"/><circle cx="579.69" cy="284.15" r="3.5"/><circle cx="581.63" cy="288.17" r="3.5"/><circle cx="583.56" cy="289.05" r="3.5"/><circle cx="585.50" cy="287.11" r="3.5"/><circle cx="587.44" cy="285.69" r="3.5"/><circle cx="589.38" cy="290.47" r="3.5"/><circle cx="591.31" cy="288.77" r="3.5"/><circle cx="593.25" cy="289.69" r="3.5"/><circle cx="595.19" cy="291.69" r="3.5"/><circle cx="597.13" cy="288.07" r="3.5"/><circle cx="599.06" cy="289.49" r="3.5"/><circle cx="601.00" cy="289.59" r="3.5"/><circle cx="602.94" cy="291.08" r="3.5"/><circle cx="604.88" cy="289.48" r="3.5"/><circle cx="606.81" cy="291.22" r="3.5"/><circle cx="608.75" cy="290.85" r="3.5"/><circle cx="610.69" cy="292.52" r="3.5"/><circle cx="612.63" cy="292.90" r="3.5"/><circle cx="614.56" cy="289.32" r="3.5"/><circle cx="616.50" cy="292.28" r="3.5"/><circle cx="618.44" cy="291.31" r="3.5"/><circle cx="620.38" cy="292.00" r="3.5"/><circle cx="622.31" cy="292.81" r="3.5"/><circle cx="624.25" cy="293.11" r="3.5"/><circle cx="626.19" cy="291.66" r="3.5"/><circle cx="628.13" cy="293.21" r="3.5"/><circle cx="630.06" cy="293.19" r="3.5"/><circle cx="632.00" cy="293.13" r="3.5"/><circle cx="633.94" cy="291.68" r="3.5"/><circle cx="635.88" cy="292.58" r="3.5"/><circle cx="637.81" cy="293.19" r="3.5"/><circle cx="639.75" cy="294.72" r="3.5"/><circle cx="641.69" cy="296.05" r="3.5"/><circle cx="643.63" cy="292.96" r="3.5"/><circle cx="645.56" cy="293.12" r="3.5"/><circle cx="647.50" cy="294.84" r="3.5"/><circle cx="649.44" cy="294.07" r="3.5"/><circle cx="651.38" cy="293.91" r="3.5"/><circle cx="653.31" cy="294.02" r="3.5"/><circle cx="655.25" cy="294.06" r="3.5"/><circle cx="657.19" cy="296.11" r="3.5"/><circle cx="659.13" cy="293.60" r="3.5"/><circle cx="661.06" cy="297.50" r="3.5"/><circle cx="663.00" cy="294.81" r="3.5"/><circle cx="664.94" cy="295.47" r="3.5"/><circle cx="666.88" cy="295.12" r="3.5"/><circle cx="668.81" cy="293.94" r="3.5"/><circle cx="670.75" cy="294.62" r="3.5"/><circle cx="672.69" cy="298.26" r="3.5"/><circle cx="674.63" cy="299.12" r="3.5"/><circle cx="676.56" cy="295.97" r="3.5"/><circle cx="678.50" cy="298.51" r="3.5"/><circle cx="680.44" cy="297.34" r="3.5"/><circle cx="682.38" cy="296.38" r="3.5"/><circle cx="684.31" cy="299.74" r="3.5"/><circle cx="686.25" cy="300.47" r="3.5"/><circle cx="688.19" cy="297.55" r="3.5"/><circle cx="690.13" cy="297.96" r="3.5"/><circle cx="692.06" cy="298.47" r="3.5"/><circle cx="694.00" cy="298.23" r="3.5"/><circle cx="695.94" cy="299.51" r="3.5"/><circle cx="697.88" cy="300.46" r="3.5"/><circle cx="699.81" cy="298.88" r="3.5"/><circle cx="701.75" cy="300.02" r="3.5"/><circle cx="703.69" cy="300.98" r="3.5"/><circle cx="705.63" cy="298.41" r="3.5"/><circle cx="707.56" cy="299.24" r="3.5"/><circle cx="709.50" cy="298.78" r="3.5"/><circle cx="711.44" cy="300.63" r="3.5"/><circle cx="713.38" cy="300.33" r="3.5"/></g>
<path d="M342.50,120.77 L343.74,124.03 L344.99,127.20 L346.23,130.29 L347.48,133.30 L348.72,136.23 L349.96,139.09 L351.21,141.88 L352.45,144.61 L353.70,147.26 L354.94,149.85 L356.19,152.38 L357.43,154.85 L358.67,157.27 L359.92,159.62 L361.16,161.92 L362.41,164.17 L363.65,166.37 L364.89,168.51 L366.14,170.61 L367.38,172.66 L368.63,174.67 L369.87,176.63 L371.12,178.55 L372.36,180.43 L373.60,182.27 L374.85,184.07 L376.09,185.83 L377.34,187.55 L378.58,189.24 L379.82,190.89 L381.07,192.51 L382.31,194.09 L383.56,195.65 L384.80,197.17 L386.05,198.66 L387.29,200.12 L388.53,201.55 L389.78,202.96 L391.02,204.33 L392.27,205.68 L393.51,207.01 L394.75,208.31 L396.00,209.58 L397.24,210.83 L398.49,212.06 L399.73,213.26 L400.97,214.44 L402.22,215.60 L403.46,216.74 L404.71,217.86 L405.95,218.95 L407.20,220.03 L408.44,221.09 L409.68,222.13 L410.93,223.15 L412.17,224.15 L413.42,225.14 L414.66,226.11 L415.90,227.06 L417.15,227.99 L418.39,228.91 L419.64,229.82 L420.88,230.71 L422.13,231.58 L423.37,232.44 L424.61,233.28 L425.86,234.12 L427.10,234.93 L428.35,235.74 L429.59,236.53 L430.83,237.31 L432.08,238.07 L433.32,238.83 L434.57,239.57 L435.81,240.30 L437.06,241.01 L438.30,241.72 L439.54,242.42 L440.79,243.10 L442.03,243.78 L443.28,244.44 L444.52,245.10 L445.76,245.74 L447.01,246.38 L448.25,247.00 L449.50,247.62 L450.74,248.22 L451.98,248.82 L453.23,249.41 L454.47,249.99 L455.72,250.56 L456.96,251.13 L458.21,251.68 L459.45,252.23 L460.69,252.77 L461.94,253.30 L463.18,253.83 L464.43,254.34 L465.67,254.85 L466.91,255.36 L468.16,255.85 L469.40,256.34 L470.65,256.83 L471.89,257.30 L473.14,257.77 L474.38,258.23 L475.62,258.69 L476.87,259.14 L478.11,259.58 L479.36,260.02 L480.60,260.46 L481.84,260.88 L483.09,261.30 L484.33,261.72 L485.58,262.13 L486.82,262.54 L488.07,262.94 L489.31,263.33 L490.55,263.72 L491.80,264.11 L493.04,264.48 L494.29,264.86 L495.53,265.23 L496.77,265.60 L498.02,265.96 L499.26,266.31 L500.51,266.67 L501.75,267.01 L502.99,267.36 L504.24,267.70 L505.48,268.03 L506.73,268.36 L507.97,268.69 L509.22,269.01 L510.46,269.33 L511.70,269.65 L512.95,269.96 L514.19,270.27 L515.44,270.57 L516.68,270.88 L517.92,271.17 L519.17,271.47 L520.41,271.76 L521.66,272.04 L522.90,272.33 L524.15,272.61 L525.39,272.89 L526.63,273.16 L527.88,273.43 L529.12,273.70 L530.37,273.97 L531.61,274.23 L532.85,274.49 L534.10,274.74 L535.34,275.00 L536.59,275.25 L537.83,275.50 L539.08,275.74 L540.32,275.98 L541.56,276.22 L542.81,276.46 L544.05,276.70 L545.30,276.93 L546.54,277.16 L547.78,277.38 L549.03,277.61 L550.27,277.83 L551.52,278.05 L552.76,278.27 L554.01,278.49 L555.25,278.70 L556.49,278.91 L557.74,279.12 L558.98,279.32 L560.23,279.53 L561.47,279.73 L562.71,279.93 L563.96,280.13 L565.20,280.33 L566.45,280.52 L567.69,280.71 L568.93,280.90 L570.18,281.09 L571.42,281.28 L572.67,281.46 L573.91,281.65 L575.16,281.83 L576.40,282.01 L577.64,282.19 L578.89,282.36 L580.13,282.53 L581.38,282.71 L582.62,282.88 L583.86,283.05 L585.11,283.21 L586.35,283.38 L587.60,283.54 L588.84,283.71 L590.09,283.87 L591.33,284.03 L592.57,284.19 L593.82,284.34 L595.06,284.50 L596.31,284.65 L597.55,284.80 L598.79,284.95 L600.04,285.10 L601.28,285.25 L602.53,285.40 L603.77,285.54 L605.02,285.69 L606.26,285.83 L607.50,285.97 L608.75,286.11 L609.99,286.25 L611.24,286.39 L612.48,286.53 L613.72,286.66 L614.97,286.79 L616.21,286.93 L617.46,287.06 L618.70,287.19 L619.94,287.32 L621.19,287.45 L622.43,287.57 L623.68,287.70 L624.92,287.82 L626.17,287.95 L627.41,288.07 L628.65,288.19 L629.90,288.31 L631.14,288.43 L632.39,288.55 L633.63,288.67 L634.87,288.78 L636.12,288.90 L637.36,289.01 L638.61,289.13 L639.85,289.24 L641.10,289.35 L642.34,289.46 L643.58,289.57 L644.83,289.68 L646.07,289.79 L647.32,289.90 L648.56,290.00 L649.80,290.11 L651.05,290.21 L652.29,290.31 L653.54,290.42 L654.78,290.52 L656.03,290.62 L657.27,290.72 L658.51,290.82 L659.76,290.92 L661.00,291.02 L662.25,291.11 L663.49,291.21 L664.73,291.30 L665.98,291.40 L667.22,291.49 L668.47,291.59 L669.71,291.68 L670.95,291.77 L672.20,291.86 L673.44,291.95 L674.69,292.04 L675.93,292.13 L677.18,292.22 L678.42,292.31 L679.66,292.39 L680.91,292.48 L682.15,292.56 L683.40,292.65 L684.64,292.73 L685.88,292.82 L687.13,292.90 L688.37,292.98 L689.62,293.06 L690.86,293.14 L692.11,293.22 L693.35,293.30 L694.59,293.38 L695.84,293.46 L697.08,293.54 L698.33,293.62 L699.57,293.69 L700.81,293.77 L702.06,293.85 L703.30,293.92 L704.55,294.00 L705.79,294.07 L707.04,294.14 L708.28,294.22 L709.52,294.29 L710.77,294.36 L712.01,294.43 L713.26,294.50 L714.50,294.57" fill="none" stroke="#000080" stroke-width="2"/>
<path d="M342.50,119.83 L343.74,123.57 L344.99,127.24 L346.23,130.83 L347.48,134.34 L348.72,137.78 L349.96,141.14 L351.21,144.43 L352.45,147.65 L353.70,150.80 L354.94,153.89 L356.19,156.91 L357.43,159.86 L358.67,162.75 L359.92,165.58 L361.16,168.36 L362.41,171.07 L363.65,173.73 L364.89,176.33 L366.14,178.87 L367.38,181.37 L368.63,183.81 L369.87,186.20 L371.12,188.54 L372.36,190.83 L373.60,193.08 L374.85,195.28 L376.09,197.43 L377.34,199.54 L378.58,201.60 L379.82,203.63 L381.07,205.61 L382.31,207.55 L383.56,209.45 L384.80,211.32 L386.05,213.14 L387.29,214.93 L388.53,216.68 L389.78,218.40 L391.02,220.08 L392.27,221.73 L393.51,223.35 L394.75,224.93 L396.00,226.48 L397.24,228.01 L398.49,229.50 L399.73,230.96 L400.97,232.39 L402.22,233.79 L403.46,235.17 L404.71,236.52 L405.95,237.84 L407.20,239.14 L408.44,240.41 L409.68,241.66 L410.93,242.88 L412.17,244.08 L413.42,245.26 L414.66,246.41 L415.90,247.54 L417.15,248.65 L418.39,249.74 L419.64,250.81 L420.88,251.85 L422.13,252.88 L423.37,253.89 L424.61,254.88 L425.86,255.85 L427.10,256.80 L428.35,257.73 L429.59,258.65 L430.83,259.54 L432.08,260.43 L433.32,261.29 L434.57,262.14 L435.81,262.97 L437.06,263.79 L438.30,264.60 L439.54,265.38 L440.79,266.16 L442.03,266.92 L443.28,267.66 L444.52,268.39 L445.76,269.11 L447.01,269.82 L448.25,270.51 L449.50,271.19 L450.74,271.86 L451.98,272.52 L453.23,273.16 L454.47,273.79 L455.72,274.41 L456.96,275.02 L458.21,275.62 L459.45,276.21 L460.69,276.79 L461.94,277.36 L463.18,277.92 L464.43,278.46 L465.67,279.00 L466.91,279.53 L468.16,280.05 L469.40,280.56 L470.65,281.06 L471.89,281.56 L473.14,282.04 L474.38,282.52 L475.62,282.99 L476.87,283.45 L478.11,283.90 L479.36,284.34 L480.60,284.78 L481.84,285.21 L483.09,285.63 L484.33,286.05 L485.58,286.46 L486.82,286.86 L488.07,287.25 L489.31,287.64 L490.55,288.02 L491.80,288.40 L493.04,288.76 L494.29,289.13 L495.53,289.48 L496.77,289.83 L498.02,290.18 L499.26,290.52 L500.51,290.85 L501.75,291.18 L502.99,291.50 L504.24,291.82 L505.48,292.13 L506.73,292.44 L507.97,292.74 L509.22,293.04 L510.46,293.33 L511.70,293.62 L512.95,293.90 L514.19,294.18 L515.44,294.46 L516.68,294.73 L517.92,294.99 L519.17,295.25 L520.41,295.51 L521.66,295.77 L522.90,296.01 L524.15,296.26 L525.39,296.50 L526.63,296.74 L527.88,296.97 L529.12,297.20 L530.37,297.43 L531.61,297.65 L532.85,297.87 L534.10,298.09 L535.34,298.30 L536.59,298.51 L537.83,298.72 L539.08,298.92 L540.32,299.12 L541.56,299.32 L542.81,299.51 L544.05,299.70 L545.30,299.89 L546.54,300.08 L547.78,300.26 L549.03,300.44 L550.27,300.62 L551.52,300.79 L552.76,300.96 L554.01,301.13 L555.25,301.30 L556.49,301.46 L557.74,301.62 L558.98,301.78 L560.23,301.94 L561.47,302.10 L562.71,302.25 L563.96,302.40 L565.20,302.55 L566.45,302.69 L567.69,302.83 L568.93,302.98 L570.18,303.12 L571.42,303.25 L572.67,303.39 L573.91,303.52 L575.16,303.65 L576.40,303.78 L577.64,303.91 L578.89,304.04 L580.13,304.16 L581.38,304.28 L582.62,304.40 L583.86,304.52 L585.11,304.64 L586.35,304.75 L587.60,304.87 L588.84,304.98 L590.09,305.09 L591.33,305.20 L592.57,305.31 L593.82,305.41 L595.06,305.52 L596.31,305.62 L597.55,305.72 L598.79,305.82 L600.04,305.92 L601.28,306.02 L602.53,306.11 L603.77,306.21 L605.02,306.30 L606.26,306.39 L607.50,306.48 L608.75,306.57 L609.99,306.66 L611.24,306.75 L612.48,306.83 L613.72,306.92 L614.97,307.00 L616.21,307.08 L617.46,307.16 L618.70,307.24 L619.94,307.32 L621.19,307.40 L622.43,307.47 L623.68,307.55 L624.92,307.62 L626.17,307.70 L627.41,307.77 L628.65,307.84 L629.90,307.91 L631.14,307.98 L632.39,308.05 L633.63,308.12 L634.87,308.18 L636.12,308.25 L637.36,308.32 L638.61,308.38 L639.85,308.44 L641.10,308.50 L642.34,308.57 L643.58,308.63 L644.83,308.69 L646.07,308.75 L647.32,308.80 L648.56,308.86 L649.80,308.92 L651.05,308.97 L652.29,309.03 L653.54,309.08 L654.78,309.14 L656.03,309.19 L657.27,309.24 L658.51,309.29 L659.76,309.35 L661.00,309.40 L662.25,309.45 L663.49,309.49 L664.73,309.54 L665.98,309.59 L667.22,309.64 L668.47,309.68 L669.71,309.73 L670.95,309.77 L672.20,309.82 L673.44,309.86 L674.69,309.91 L675.93,309.95 L677.18,309.99 L678.42,310.03 L679.66,310.07 L680.91,310.11 L682.15,310.15 L683.40,310.19 L684.64,310.23 L685.88,310.27 L687.13,310.31 L688.37,310.35 L689.62,310.38 L690.86,310.42 L692.11,310.46 L693.35,310.49 L694.59,310.53 L695.84,310.56 L697.08,310.60 L698.33,310.63 L699.57,310.66 L700.81,310.70 L702.06,310.73 L703.30,310.76 L704.55,310.79 L705.79,310.82 L707.04,310.85 L708.28,310.89 L709.52,310.92 L710.77,310.94 L712.01,310.97 L713.26,311.00 L714.50,311.03" fill="none" stroke="#1e90ff" stroke-width="2"/>
<path d="M342.50,120.43 L343.74,123.67 L344.99,126.83 L346.23,129.90 L347.48,132.90 L348.72,135.82 L349.96,138.67 L351.21,141.45 L352.45,144.16 L353.70,146.80 L354.94,149.38 L356.19,151.89 L357.43,154.35 L358.67,156.74 L359.92,159.08 L361.16,161.37 L362.41,163.60 L363.65,165.78 L364.89,167.91 L366.14,170.00 L367.38,172.03 L368.63,174.02 L369.87,175.97 L371.12,177.87 L372.36,179.73 L373.60,181.55 L374.85,183.33 L376.09,185.08 L377.34,186.78 L378.58,188.45 L379.82,190.09 L381.07,191.69 L382.31,193.25 L383.56,194.79 L384.80,196.29 L386.05,197.77 L387.29,199.21 L388.53,200.63 L389.78,202.01 L391.02,203.37 L392.27,204.70 L393.51,206.01 L394.75,207.29 L396.00,208.55 L397.24,209.78 L398.49,210.99 L399.73,212.18 L400.97,213.35 L402.22,214.49 L403.46,215.61 L404.71,216.72 L405.95,217.80 L407.20,218.86 L408.44,219.91 L409.68,220.93 L410.93,221.94 L412.17,222.93 L413.42,223.90 L414.66,224.86 L415.90,225.80 L417.15,226.72 L418.39,227.63 L419.64,228.52 L420.88,229.40 L422.13,230.27 L423.37,231.12 L424.61,231.95 L425.86,232.77 L427.10,233.58 L428.35,234.38 L429.59,235.17 L430.83,235.94 L432.08,236.70 L433.32,237.45 L434.57,238.18 L435.81,238.91 L437.06,239.63 L438.30,240.33 L439.54,241.02 L440.79,241.71 L442.03,242.38 L443.28,243.05 L444.52,243.70 L445.76,244.35 L447.01,244.98 L448.25,245.61 L449.50,246.23 L450.74,246.84 L451.98,247.44 L453.23,248.04 L454.47,248.62 L455.72,249.20 L456.96,249.77 L458.21,250.33 L459.45,250.89 L460.69,251.43 L461.94,251.98 L463.18,252.51 L464.43,253.04 L465.67,253.56 L466.91,254.07 L468.16,254.58 L469.40,255.08 L470.65,255.57 L471.89,256.06 L473.14,256.54 L474.38,257.02 L475.62,257.49 L476.87,257.95 L478.11,258.41 L479.36,258.86 L480.60,259.31 L481.84,259.75 L483.09,260.19 L484.33,260.62 L485.58,261.05 L486.82,261.47 L488.07,261.89 L489.31,262.30 L490.55,262.71 L491.80,263.11 L493.04,263.51 L494.29,263.90 L495.53,264.29 L496.77,264.67 L498.02,265.05 L499.26,265.43 L500.51,265.80 L501.75,266.16 L502.99,266.52 L504.24,266.88 L505.48,267.24 L506.73,267.59 L507.97,267.93 L509.22,268.27 L510.46,268.61 L511.70,268.94 L512.95,269.27 L514.19,269.60 L515.44,269.92 L516.68,270.24 L517.92,270.56 L519.17,270.87 L520.41,271.18 L521.66,271.48 L522.90,271.78 L524.15,272.08 L525.39,272.38 L526.63,272.67 L527.88,272.96 L529.12,273.24 L530.37,273.52 L531.61,273.80 L532.85,274.08 L534.10,274.35 L535.34,274.62 L536.59,274.89 L537.83,275.15 L539.08,275.41 L540.32,275.67 L541.56,275.92 L542.81,276.17 L544.05,276.42 L545.30,276.67 L546.54,276.92 L547.78,277.16 L549.03,277.40 L550.27,277.63 L551.52,277.87 L552.76,278.10 L554.01,278.33 L555.25,278.55 L556.49,278.78 L557.74,279.00 L558.98,279.22 L560.23,279.43 L561.47,279.65 L562.71,279.86 L563.96,280.07 L565.20,280.28 L566.45,280.49 L567.69,280.69 L568.93,280.89 L570.18,281.09 L571.42,281.29 L572.67,281.49 L573.91,281.68 L575.16,281.88 L576.40,282.07 L577.64,282.26 L578.89,282.44 L580.13,282.63 L581.38,282.81 L582.62,283.00 L583.86,283.18 L585.11,283.36 L586.35,283.53 L587.60,283.71 L588.84,283.88 L590.09,284.05 L591.33,284.23 L592.57,284.40 L593.82,284.56 L595.06,284.73 L596.31,284.90 L597.55,285.06 L598.79,285.22 L600.04,285.38 L601.28,285.54 L602.53,285.70 L603.77,285.86 L605.02,286.02 L606.26,286.17 L607.50,286.33 L608.75,286.48 L609.99,286.63 L611.24,286.78 L612.48,286.93 L613.72,287.08 L614.97,287.23 L616.21,287.37 L617.46,287.52 L618.70,287.66 L619.94,287.80 L621.19,287.95 L622.43,288.09 L623.68,288.23 L624.92,288.36 L626.17,288.50 L627.41,288.64 L628.65,288.77 L629.90,288.91 L631.14,289.04 L632.39,289.18 L633.63,289.31 L634.87,289.44 L636.12,289.57 L637.36,289.70 L638.61,289.82 L639.85,289.95 L641.10,290.08 L642.34,290.20 L643.58,290.33 L644.83,290.45 L646.07,290.57 L647.32,290.69 L648.56,290.81 L649.80,290.93 L651.05,291.05 L652.29,291.17 L653.54,291.28 L654.78,291.40 L656.03,291.52 L657.27,291.63 L658.51,291.74 L659.76,291.85 L661.00,291.96 L662.25,292.07 L663.49,292.18 L664.73,292.29 L665.98,292.40 L667.22,292.51 L668.47,292.61 L669.71,292.72 L670.95,292.82 L672.20,292.92 L673.44,293.02 L674.69,293.12 L675.93,293.22 L677.18,293.32 L678.42,293.42 L679.66,293.52 L680.91,293.61 L682.15,293.71 L683.40,293.80 L684.64,293.90 L685.88,293.99 L687.13,294.08 L688.37,294.17 L689.62,294.26 L690.86,294.35 L692.11,294.44 L693.35,294.53 L694.59,294.62 L695.84,294.70 L697.08,294.79 L698.33,294.87 L699.57,294.95 L700.81,295.04 L702.06,295.12 L703.30,295.20 L704.55,295.28 L705.79,295.36 L707.04,295.44 L708.28,295.52 L709.52,295.59 L710.77,295.67 L712.01,295.75 L713.26,295.82 L714.50,295.90" fill="none" stroke="#00c000" stroke-width="2" stroke-dasharray="3.8 3.6"/>
<text x="333.10" y="124.00" text-anchor="end" font-size="19.6">-4</text><text x="316.08" y="132.70" text-anchor="end" font-size="24.4">10</text><path d="M274.99,119.50 L286.19,130.70 M274.99,130.70 L286.19,119.50" stroke="#000" stroke-width="1.8" fill="none"/><text x="270.44" y="132.70" text-anchor="end" font-size="24.4">2</text>
<text x="333.10" y="224.00" text-anchor="end" font-size="19.6">-4</text><text x="316.08" y="232.70" text-anchor="end" font-size="24.4">10</text><path d="M274.99,219.50 L286.19,230.70 M274.99,230.70 L286.19,219.50" stroke="#000" stroke-width="1.8" fill="none"/><text x="270.44" y="232.70" text-anchor="end" font-size="24.4">1</text>
<text x="333.10" y="324.00" text-anchor="end" font-size="19.6">0</text><text x="322.60" y="332.70" text-anchor="end" font-size="24.4">10</text><path d="M281.52,319.50 L292.72,330.70 M281.52,330.70 L292.72,319.50" stroke="#000" stroke-width="1.8" fill="none"/><text x="276.97" y="332.70" text-anchor="end" font-size="24.4">0</text>
<text x="345.2" y="344" text-anchor="middle" font-size="24.4">40</text>
<text x="407.2" y="344" text-anchor="middle" font-size="24.4">80</text>
<text x="470.0" y="344" text-anchor="middle" font-size="24.4">120</text>
<text x="532.0" y="344" text-anchor="middle" font-size="24.4">160</text>
<text x="594.0" y="344" text-anchor="middle" font-size="24.4">200</text>
<text x="656.0" y="344" text-anchor="middle" font-size="24.4">240</text>
<text x="718.0" y="344" text-anchor="middle" font-size="24.4">280</text>
<text x="738" y="37.2" text-anchor="end" font-size="15.35">Data</text>
<text x="738" y="60.5" text-anchor="end" font-size="15.35">Power Law</text>
<text x="738" y="83.9" text-anchor="end" font-size="15.35">Sinhc Law</text>
<text x="738" y="107.3" text-anchor="end" font-size="15.35">Multi exp. Law</text>
<g stroke="#ff0000" stroke-width="1.8" fill="none"><path d="M767.5,22.6 V42.8 M764.1,22.6 h6.8 M764.1,42.8 h6.8"/><circle cx="767.5" cy="32.6" r="3.5" stroke-width="2"/></g>
<path d="M746.9,56 H788" stroke="#000080" stroke-width="2"/>
<path d="M746.9,79.4 H788" stroke="#1e90ff" stroke-width="2"/>
<path d="M746.9,102.8 H788" stroke="#00c000" stroke-width="2" stroke-dasharray="3.8 1.87"/>
</svg>
</body></html>
